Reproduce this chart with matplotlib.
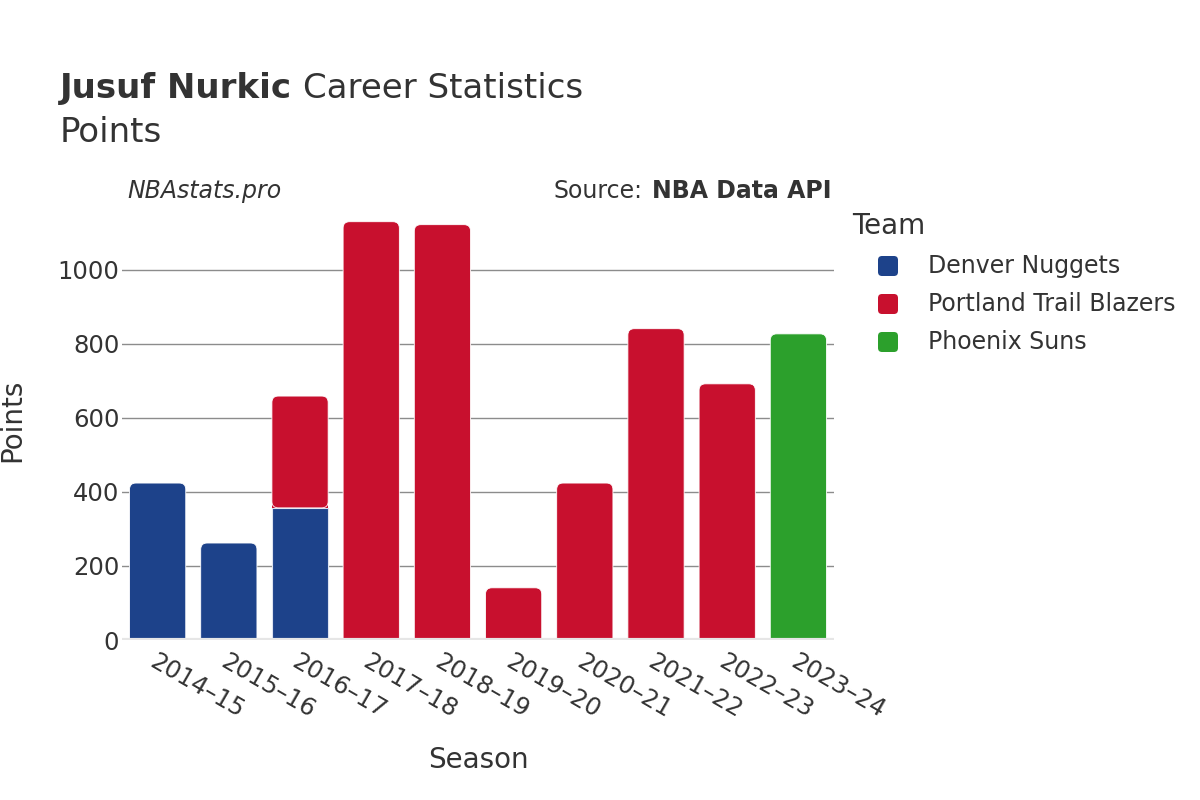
import numpy as np
import matplotlib.pyplot as plt
from matplotlib.patches import FancyBboxPatch

seasons = ["2014–15", "2015–16", "2016–17", "2017–18", "2018–19",
           "2019–20", "2020–21", "2021–22", "2022–23", "2023–24"]
teams = ["Denver Nuggets", "Portland Trail Blazers", "Phoenix Suns"]
colors = ["#1d428a", "#c8102e", "#2ca02c"]
denver = [424, 262, 357, 0, 0, 0, 0, 0, 0, 0]
portland = [0, 0, 302, 1130, 1122, 141, 424, 841, 692, 0]
phoenix = [0, 0, 0, 0, 0, 0, 0, 0, 0, 827]

txt = "#333333"
plt.rcParams['font.family'] = ['DejaVu Sans']

W, H = 1200, 800
fig = plt.figure(figsize=(12, 8), dpi=100)
ax = fig.add_axes([0.1017, 0.2, 0.5933, 0.546])

x = np.arange(len(seasons))
width = 0.79
series = [denver, portland, phoenix]
bottoms = np.zeros(len(seasons))
ylim_top = 1180
xpx = 712 / 10.0
ypx = 437 / ylim_top
aspect = xpx / ypx
r = 0.09
for i, vals in enumerate(series):
    vals = np.array(vals, dtype=float)
    for j in range(len(seasons)):
        if vals[j] <= 0:
            continue
        # top segment gets rounded corners, lower segment stays square
        is_top = all(series[k][j] == 0 for k in range(i + 1, len(series)))
        if is_top:
            h = vals[j]
            extra = r * aspect if bottoms[j] == 0 else 0
            p = FancyBboxPatch((x[j] - width / 2, bottoms[j] - extra), width, h + extra,
                               boxstyle="round,pad=0,rounding_size=%f" % r,
                               mutation_aspect=aspect,
                               facecolor=colors[i], edgecolor="#ffffff", linewidth=0.6,
                               zorder=3, clip_on=True)
            if bottoms[j] > 0:
                ax.bar(x[j], min(h, 30), width, bottom=bottoms[j], color=colors[i],
                       edgecolor="none", zorder=3)
            ax.add_patch(p)
        else:
            ax.bar(x[j], vals[j], width, bottom=bottoms[j], color=colors[i],
                   edgecolor="#dde3f0", linewidth=0.8, zorder=3)
    bottoms += vals

ax.set_xlim(-0.5, 9.5)
ax.set_ylim(0, ylim_top)
ax.set_yticks([0, 200, 400, 600, 800, 1000])
ax.yaxis.grid(True, color="#8c8c8c", linewidth=1, zorder=0)
ax.axhline(0, color="#e6e6e6", linewidth=3, zorder=4)
for s in ax.spines.values():
    s.set_visible(False)
ax.tick_params(axis="y", length=0, labelsize=17.5, labelcolor=txt, pad=2)
ax.tick_params(axis="x", length=0, labelsize=17.5, labelcolor=txt, pad=7)
ax.set_xticks(x)
ax.set_xticklabels(seasons, rotation=-30, ha="left", rotation_mode="anchor")
ax.set_xlabel("Season", fontsize=20, color=txt)
ax.set_ylabel("Points", fontsize=20, color=txt)
ax.yaxis.set_label_coords(-0.1348, 0.503)
ax.xaxis.set_label_coords(0.5, -0.243)

fig.canvas.draw()
r_ = fig.canvas.get_renderer()

t1 = fig.text(0.05, 0.889, "Jusuf Nurkic", fontsize=24.5, fontweight="bold", color=txt, va="center")
bb = t1.get_window_extent(r_)
fig.text((bb.x1 + 11) / W, 0.889, "Career Statistics", fontsize=24.5, color=txt, va="center")
fig.text(0.05, 0.835, "Points", fontsize=24.5, color=txt, va="center")
fig.text(0.106, 0.761, "NBAstats.pro", fontsize=17, style="italic", color=txt, va="center")
src = fig.text(0.6925, 0.761, "NBA Data API", fontsize=17, fontweight="bold", color=txt,
               va="center", ha="right")
bb = src.get_window_extent(r_)
fig.text((bb.x0 - 9) / W, 0.761, "Source:", fontsize=17, color=txt,
         va="center", ha="right")

# legend drawn by hand to match spacing
fig.text(852 / W, 1 - 226 / H, "Team", fontsize=20, color=txt, va="center")
for k, (team, c) in enumerate(zip(teams, colors)):
    yc = 266 + 38 * k
    sq = FancyBboxPatch((878 / W, 1 - (yc + 10) / H), 20 / W, 20 / H,
                        boxstyle="round,pad=0,rounding_size=%f" % (4 / W),
                        mutation_aspect=W / H, transform=fig.transFigure,
                        facecolor=c, edgecolor="none")
    fig.patches.append(sq)
    fig.text(928 / W, 1 - yc / H, team, fontsize=17, color=txt, va="center")

plt.savefig("out.png", dpi=100)
